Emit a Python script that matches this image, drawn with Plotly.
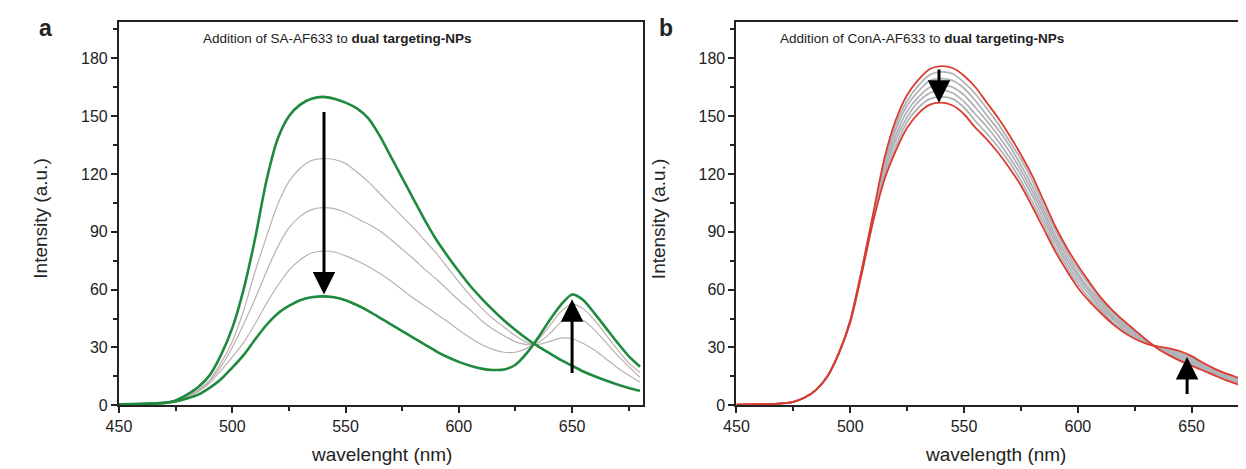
import plotly.graph_objects as go

W, H = 1246, 469

# ---------------- data ----------------
wavelength = [450, 460, 470, 475, 480, 485, 490, 495, 500, 505, 510, 515, 520, 525, 530,
              535, 540, 545, 550, 555, 560, 565, 570, 575, 580, 585, 590, 595, 600, 605,
              610, 615, 620, 625, 630, 635, 640, 645, 650, 655, 660, 665, 670, 675, 680]

# panel a: SA-AF633 titration
sa_start = [0.5, 0.7, 1.2, 2.5, 5.5, 9.5, 15.5, 26, 40, 60, 86, 116, 138, 150, 156,
            159, 160, 159, 157, 154, 149, 140, 129, 118, 107, 96, 86, 77.5, 69.5, 62,
            55.5, 49.5, 44, 39, 34.5, 30.5, 27, 23.5, 20.5, 17.5, 15, 12.8, 10.8, 9, 7.5]
sa_step1 = [0.4, 0.6, 1.2, 2.3, 4.5, 8, 13, 22, 33, 49, 69, 87, 104, 116, 123,
            127, 128, 127.5, 125.5, 121, 116, 110, 104, 98, 92, 85.5, 79, 71.5, 64, 57,
            50.5, 45, 40.5, 36, 32.5, 31.5, 33, 34.8, 34.5, 32, 28.5, 24, 19.5, 15.5, 12]
sa_step2 = [0.4, 0.6, 1.2, 2.2, 4.2, 7.5, 12.5, 20, 30, 42, 55, 69, 82, 92, 98,
            101.5, 102.5, 102, 100, 97, 94, 90.5, 86, 81, 76, 70.5, 65.5, 60, 54.5, 49.5,
            44, 39.5, 36, 33, 31.5, 32.5, 37, 43, 46, 44, 39, 32.5, 26, 20, 14.5]
sa_step3 = [0.3, 0.6, 1.2, 2.1, 4, 7, 11.5, 18, 25, 32.5, 42, 52.5, 62, 70, 75.5,
            79, 80, 79.5, 77.5, 75, 72, 68.5, 64.5, 60, 55.5, 51.5, 47.5, 43.5, 39, 35,
            31.5, 29, 27.5, 27.5, 29.5, 34, 41, 48.5, 52.5, 50, 44, 36.5, 29, 22, 17]
sa_end = [0.3, 0.6, 1.2, 2, 3.5, 5.5, 9, 13.5, 19.5, 26, 34, 41.5, 47.5, 51.5, 54.5,
          56, 56.5, 56, 54.5, 52, 49, 45.5, 42, 38.5, 35, 31.5, 28, 25, 22.5, 20.5,
          19, 18.3, 18.5, 21, 27, 35, 44, 52, 57.5, 54.5, 47.5, 40, 32.5, 25.5, 20]

# panel b: ConA-AF633 titration
cona_start = [0.3, 0.5, 1.0, 1.8, 4.0, 8.0, 15, 27, 44, 70, 99, 128, 148, 161, 169,
              174.5, 176, 175, 171, 165, 157, 149, 140, 130, 119, 106, 93, 82, 72.5, 64,
              56, 49.5, 44, 39, 34, 29.5, 26, 23, 20.5, 18, 15.5, 13, 11, 9, 7.5]
cona_steps = [
    [0.3, 0.5, 1.0, 1.8, 4.0, 8.0, 15, 27, 44, 70, 98.5, 126, 145.5, 158, 166,
     171.5, 173, 172, 167.5, 161.5, 154, 146, 137, 127.5, 116.5, 103.5, 91, 80, 70.5, 62.5,
     54.5, 48.5, 43, 38, 33.5, 29.7, 26.6, 23.8, 21.3, 18.7, 16.1, 13.6, 11.6, 9.6, 8.1],
    [0.3, 0.5, 1.0, 1.8, 4.0, 8.0, 15, 27, 44, 69.5, 97.5, 124, 143, 155.5, 163,
     168.5, 169.5, 168.5, 164.5, 158, 150.5, 143, 134.5, 124.5, 113.5, 101, 88.5, 78, 68.5, 60.5,
     53.5, 47, 42, 37.5, 33.5, 29.8, 27.2, 24.7, 22.2, 19.3, 16.7, 14.2, 12.2, 10.2, 8.7],
    [0.3, 0.5, 1.0, 1.8, 4.0, 8.0, 15, 27, 43.5, 69, 97, 122.5, 140, 152.5, 160,
     165, 166.5, 165, 161, 154.5, 147.5, 140, 131.5, 122, 111, 99, 86.5, 76, 67, 59,
     52, 46, 41, 37, 33, 30, 27.8, 25.5, 23, 20, 17.3, 14.8, 12.8, 10.8, 9.3],
    [0.3, 0.5, 1.0, 1.8, 4.0, 8.0, 15, 27, 43.5, 69, 96.5, 121, 137.5, 149.5, 157.5,
     162, 163.5, 162, 157.5, 151, 144.5, 137, 128.5, 119.5, 108.5, 96.5, 84.5, 74, 65, 57.5,
     50.5, 45, 40, 36, 32.5, 30.2, 28.3, 26.3, 23.8, 20.7, 17.8, 15.3, 13.3, 11.3, 9.8],
    [0.3, 0.5, 1.0, 1.8, 4.0, 8.0, 15, 27, 43, 68.5, 95.5, 119, 134.5, 147, 154.5,
     159, 160, 159, 154.5, 147.5, 141, 134, 126, 116.5, 105.5, 94, 82, 72, 63, 55.5,
     49.5, 43.5, 39, 35.5, 32.5, 30.3, 29, 27.2, 24.7, 21.3, 18.4, 15.9, 13.9, 11.9, 10.4],
]
cona_end = [0.3, 0.5, 1.0, 1.8, 4.0, 8.0, 15, 27, 43, 68, 95, 117, 132, 144, 151.5,
            156, 157, 155.5, 151, 144, 138, 131, 123, 114, 103, 91.5, 80, 70, 61, 54,
            48, 42.5, 38, 34.5, 32, 30.5, 29.5, 28, 25.5, 22, 19, 16.5, 14.5, 12.5, 11]

x_ticks = [450, 500, 550, 600, 650]
y_ticks = [0, 30, 60, 90, 120, 150, 180]

GREEN = '#1f8a3e'
RED = '#dc3a2e'
GRAY_A = '#bdb0b0'
GRAY_B = '#b0b2b7'
FONT = 'Liberation Sans, Arial, sans-serif'

fig = go.Figure()


def line(x, y, color, width, axis):
    fig.add_trace(go.Scatter(
        x=x, y=y, mode='lines', line=dict(color=color, width=width, shape='spline', smoothing=0.7),
        xaxis='x' if axis == 1 else 'x2', yaxis='y' if axis == 1 else 'y2',
        hoverinfo='skip', showlegend=False,
    ))


for s in (sa_step1, sa_step2, sa_step3):
    line(wavelength, s, GRAY_A, 1.2, 1)
line(wavelength, sa_start, GREEN, 2.6, 1)
line(wavelength, sa_end, GREEN, 2.6, 1)

for s in cona_steps:
    line(wavelength, s, GRAY_B, 1.8, 2)
line(wavelength, cona_start, RED, 1.8, 2)
line(wavelength, cona_end, RED, 1.8, 2)

axis_common = dict(
    showgrid=False, zeroline=False, showline=True, linecolor='#222', linewidth=2,
    ticks='outside', ticklen=6, tickwidth=1.5, tickcolor='#222',
    tickfont=dict(family=FONT, size=16, color='#222'),
)

fig.update_layout(
    width=W, height=H,
    margin=dict(l=0, r=0, t=0, b=0),
    paper_bgcolor='white', plot_bgcolor='white',
    xaxis=dict(domain=[99 / W, 629 / W], range=[450, 681.5], tickvals=x_ticks, mirror=True,
               minor=dict(dtick=25, tick0=450, ticks='outside', ticklen=4, tickcolor='#222'),
               anchor='y', **axis_common),
    yaxis=dict(domain=[(H - 405) / H, (H - 14) / H], range=[0, 199], tickvals=y_ticks, mirror=True,
               minor=dict(dtick=15, tick0=0, ticks='outside', ticklen=4, tickcolor='#222'),
               anchor='x', **axis_common),
    xaxis2=dict(domain=[723 / W, 1.0], range=[450, 677.4], tickvals=x_ticks, mirror=True,
                minor=dict(dtick=25, tick0=450, ticks='outside', ticklen=4, tickcolor='#222'),
                anchor='y2', **axis_common),
    yaxis2=dict(domain=[(H - 405) / H, (H - 14) / H], range=[0, 199], tickvals=y_ticks, mirror=False,
                minor=dict(dtick=15, tick0=0, ticks='outside', ticklen=4, tickcolor='#222'),
                anchor='x2', **axis_common),
)

txt = dict(family=FONT, color='#222')
ann = [
    dict(text='<b>a</b>', x=25 / W, y=1 - 20 / H, font=dict(size=23, **txt)),
    dict(text='<b>b</b>', x=652 / W, y=1 - 20 / H, font=dict(size=23, **txt)),
    dict(text='Addition of SA-AF633 to <b>dual targeting-NPs</b>', x=320 / W, y=1 - 31 / H,
         font=dict(size=13.5, **txt)),
    dict(text='Addition of ConA-AF633 to <b>dual targeting-NPs</b>', x=910 / W, y=1 - 31 / H,
         font=dict(size=13.5, **txt)),
    dict(text='Intensity (a.u.)', x=20 / W, y=1 - 215 / H, textangle=-90, font=dict(size=19, **txt)),
    dict(text='Intensity (a.u.)', x=645 / W, y=1 - 215 / H, textangle=-90, font=dict(size=19, **txt)),
    dict(text='wavelenght (nm)', x=364 / W, y=1 - 455 / H, font=dict(size=19, **txt)),
    dict(text='wavelength (nm)', x=985 / W, y=1 - 455 / H, font=dict(size=19, **txt)),
]
for a in ann:
    fig.add_annotation(xref='paper', yref='paper', showarrow=False,
                       xanchor='center', yanchor='middle', **a)

# arrows (tip at x/y, tail at ax/ay, data coordinates)
arrows = [
    ('x', 'y', 540.5, 57.5, 540.5, 153),
    ('x', 'y', 650, 55, 650, 16),
    ('x2', 'y2', 539, 157, 539, 175),
    ('x2', 'y2', 648, 25, 648, 5),
]
for xr, yr, x, y, ax, ay in arrows:
    fig.add_annotation(xref=xr, yref=yr, axref=xr, ayref=yr, x=x, y=y, ax=ax, ay=ay,
                       showarrow=True, arrowhead=2, arrowsize=1.5, arrowwidth=3,
                       arrowcolor='black', text='')

fig.write_html("out.html")
